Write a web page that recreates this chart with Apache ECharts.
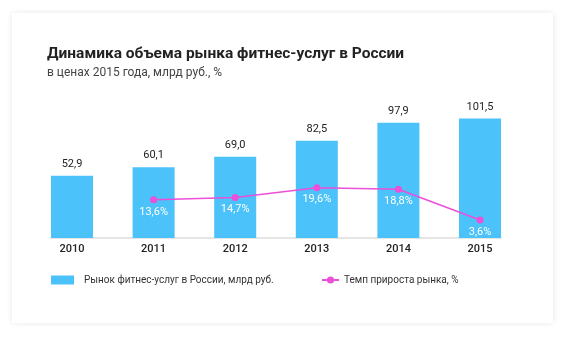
<!DOCTYPE html>
<html><head><meta charset="utf-8">
<script src="https://cdn.jsdelivr.net/npm/echarts@6/dist/echarts.min.js"></script>
<style>
html,body{margin:0;padding:0;background:#fff;width:568px;height:341px;overflow:hidden;}
#card{position:absolute;left:12px;top:13px;width:541px;height:310px;background:#fff;box-shadow:0 0 6px rgba(0,0,0,0.10);}
#chart{position:absolute;left:0;top:0;width:568px;height:341px;}
</style></head>
<body><div id="card"></div><div id="chart"></div>
<script>
const years = [2010, 2011, 2012, 2013, 2014, 2015];
const marketValues = [52.9, 60.1, 69.0, 82.5, 97.9, 101.5];
const growthYears = [2011, 2012, 2013, 2014, 2015];
const growthValues = [13.6, 14.7, 19.6, 18.8, 3.6];
const barName = 'Рынок фитнес-услуг в России, млрд руб.';
const lineName = 'Темп прироста рынка, %';
const fmt = v => String(v.toFixed(1)).replace('.', ',');

const chart = echarts.init(document.getElementById('chart'), null, {renderer:'canvas'});
chart.setOption({
  backgroundColor: 'transparent',
  animation: false,
  textStyle: {fontFamily: 'Roboto'},
  title: [
    {text: 'Динамика объема рынка фитнес-услуг в России', left: 47, top: 46, padding: 0,
     textStyle: {fontSize: 15.5, fontWeight: 'bold', color: '#222', fontFamily: 'Roboto'}},
    {text: 'в ценах 2015 года, млрд руб., %', left: 47, top: 67, padding: 0,
     textStyle: {fontSize: 12, fontWeight: 'normal', color: '#444', fontFamily: 'Roboto'}}
  ],
  legend: [
    {data: [{name: barName, icon: 'rect'}], left: 51, top: 275, padding: 0, itemWidth: 23, itemHeight: 9,
     textStyle: {fontSize: 10, color: '#333', padding: [0,0,0,5]}},
    {data: [lineName], left: 321, top: 275, padding: 0, itemWidth: 17, itemHeight: 9,
     textStyle: {fontSize: 10, color: '#333'}}
  ],
  grid: {left: 51, right: 67, top: 96.6, bottom: 103},
  xAxis: {
    type: 'value',
    min: v => v.min - 0.2574,
    max: v => v.max + 0.2574,
    splitLine: {show: false},
    axisTick: {show: false},
    axisLine: {show: true, lineStyle: {color: '#ddd', width: 1.5}},
    axisLabel: {customValues: years, formatter: v => String(v), color: '#222', fontSize: 11, fontWeight: 500, margin: 6}
  },
  yAxis: [
    {type: 'value', min: 0, max: 120, show: false, splitLine: {show: false}},
    {type: 'value', min: -5.3, max: 64.7, show: false, splitLine: {show: false}}
  ],
  series: [
    {name: barName, type: 'bar', barWidth: 42, yAxisIndex: 0,
     itemStyle: {color: '#4BC2F9'},
     label: {show: true, position: 'top', distance: 6, color: '#222', fontSize: 11,
             formatter: p => fmt(p.value[1])},
     data: years.map((y, i) => [y, marketValues[i]])},
    {name: lineName, type: 'line', yAxisIndex: 1, z: 5,
     symbol: 'circle', symbolSize: 7,
     itemStyle: {color: '#EC4FD8'}, lineStyle: {color: '#EC4FD8', width: 1.5},
     label: {show: true, position: 'bottom', distance: 3, color: '#fff', fontSize: 11,
             formatter: p => fmt(p.value[1]) + '%'},
     data: growthYears.map((y, i) => [y, growthValues[i]])}
  ]
});
</script></body></html>
